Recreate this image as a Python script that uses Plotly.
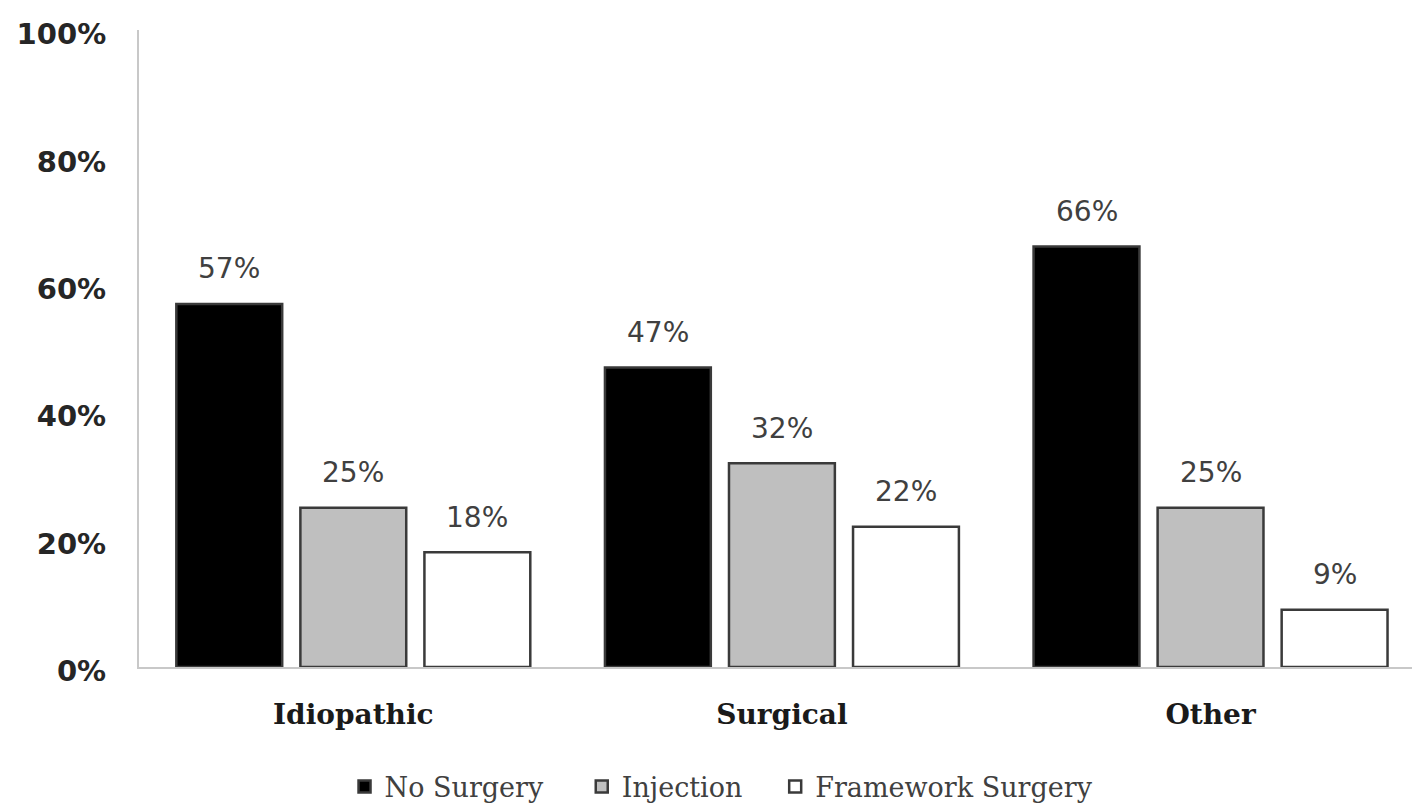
import plotly.graph_objects as go

# Share of patients by treatment, per etiology group (percent)
categories = ["Idiopathic", "Surgical", "Other"]
series_names = ["No Surgery", "Injection", "Framework Surgery"]
no_surgery = [57, 47, 66]
injection = [25, 32, 25]
framework_surgery = [18, 22, 9]
y_tick_values = [0, 20, 40, 60, 80, 100]
y_tick_labels = [f"{v}%" for v in y_tick_values]

series_values = [no_surgery, injection, framework_surgery]
fill_colors = ["#000000", "#bfbfbf", "#ffffff"]
legend_ids = ["legend", "legend2", "legend3"]
# left edge of each legend entry, as a fraction of the page width
legend_left = [0.244, 0.412, 0.549]

# group layout (in category units): slot pitch and bar width
slot = 0.2894
bar_width = 0.247

legend_font = dict(family="DejaVu Serif", size=27, color="#404040")

fig = go.Figure()
annotations = []
for j, (name, vals, color) in enumerate(zip(series_names, series_values, fill_colors)):
    xs = [i + (j - 1) * slot for i in range(len(categories))]
    fig.add_trace(go.Bar(
        name=name,
        x=xs,
        y=vals,
        width=bar_width,
        marker=dict(color=color, line=dict(color="#3a3a3a", width=2.5)),
        legend=legend_ids[j],
        hoverinfo="skip",
    ))
    for x, v in zip(xs, vals):
        annotations.append(dict(
            x=x, y=v, xref="x", yref="y",
            text=f"{v}%", showarrow=False,
            yanchor="middle", yshift=35,
            font=dict(family="DejaVu Sans", size=28, color="#404040"),
        ))

legends = {}
for lid, left in zip(legend_ids, legend_left):
    legends[lid] = dict(
        orientation="h",
        xref="container", yref="container",
        x=left, xanchor="left",
        y=0.025, yanchor="middle",
        font=legend_font,
        bgcolor="rgba(0,0,0,0)",
    )

fig.update_layout(
    width=1412,
    height=807,
    margin=dict(l=139, r=0, t=30, b=140),
    paper_bgcolor="#ffffff",
    plot_bgcolor="#ffffff",
    barmode="overlay",
    annotations=annotations,
    showlegend=True,
    xaxis=dict(
        range=[-0.5, 2.47],
        tickvals=list(range(len(categories))),
        ticktext=categories,
        showline=True, linecolor="#c8c8c8", linewidth=2,
        showgrid=False, zeroline=False, ticks="",
        ticklabelstandoff=21,
        tickfont=dict(family="DejaVu Serif", size=28, weight="bold", color="#1a1a1a"),
    ),
    yaxis=dict(
        range=[0, 100],
        tickvals=y_tick_values,
        ticktext=y_tick_labels,
        showline=True, linecolor="#c8c8c8", linewidth=2,
        showgrid=False, zeroline=False, ticks="",
        ticklabelstandoff=25,
        ticklabelshift=4,
        tickfont=dict(family="DejaVu Sans", size=29, weight="bold", color="#262626"),
    ),
    **legends,
)

fig.write_html("out.html")
